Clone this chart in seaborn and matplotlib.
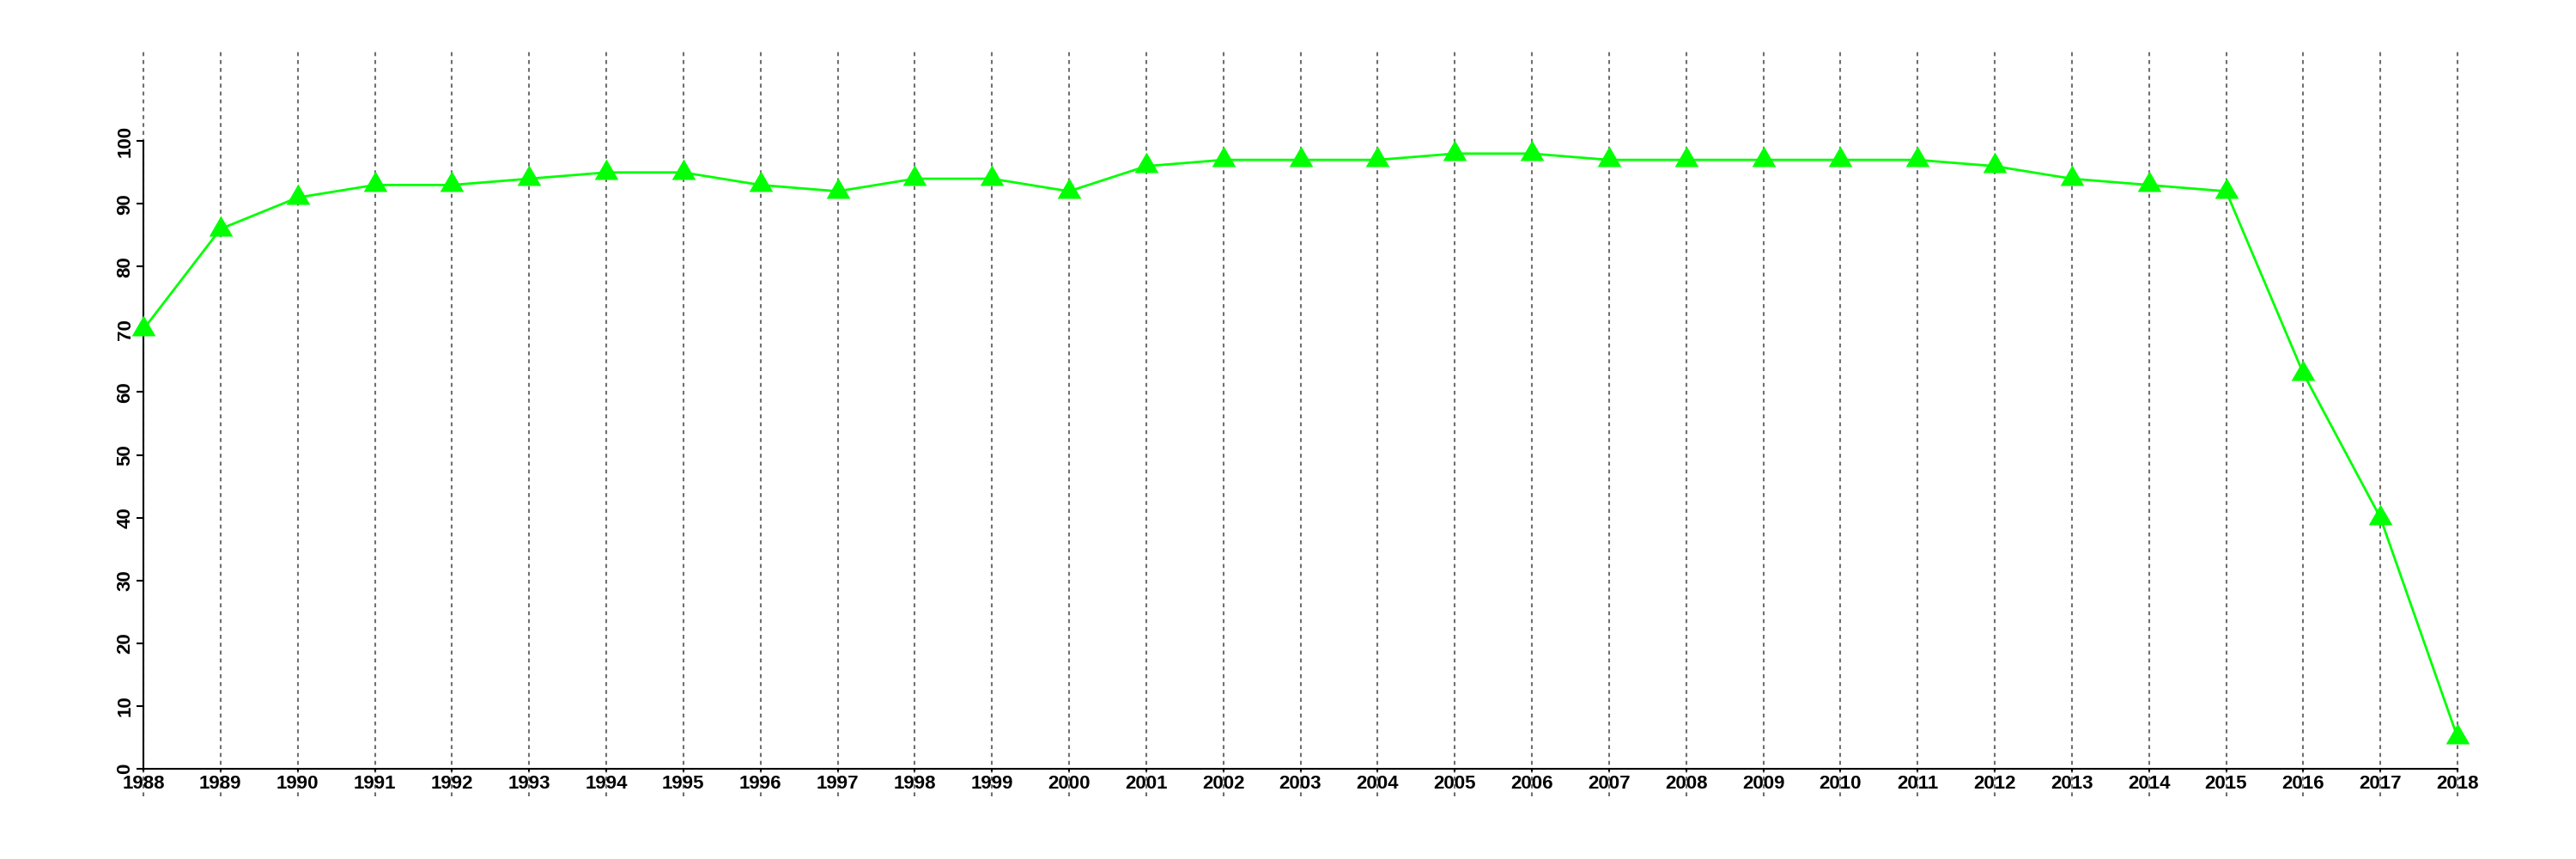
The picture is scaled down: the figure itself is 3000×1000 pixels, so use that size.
import numpy as np
import pandas as pd
import matplotlib
matplotlib.use("Agg")
import matplotlib.pyplot as plt
from matplotlib.path import Path
import seaborn as sns

years = list(range(1988, 2019))
values = [70, 86, 91, 93, 93, 94, 95, 95, 93, 92, 94, 94, 92, 96, 97, 97, 97,
          98, 98, 97, 97, 97, 97, 97, 96, 94, 93, 92, 63, 40, 5]
y_ticks = [0, 10, 20, 30, 40, 50, 60, 70, 80, 90, 100]

df = pd.DataFrame({"year": years, "value": values})

sns.set_theme(style="white")
plt.rcParams["font.family"] = ["Liberation Sans", "DejaVu Sans"]
plt.rcParams["xtick.labelsize"] = 16
plt.rcParams["ytick.labelsize"] = 16

fig = plt.figure(figsize=(30, 10), dpi=100)
ax = fig.add_axes([59.2 / 3000, 0.073, (2969.8 - 59.2) / 3000, 0.868])

# vertical dotted grid lines at each year
for yr in years:
    ax.axvline(yr, color="#707070", linewidth=1.5, linestyle=(0, (2.2, 2.2)), zorder=0)

tri = Path([(0, 1), (-0.866, -0.5), (0.866, -0.5), (0, 1)],
           [Path.MOVETO, Path.LINETO, Path.LINETO, Path.CLOSEPOLY])

sns.lineplot(data=df, x="year", y="value", ax=ax, color="#00ff00",
             linewidth=2.0, marker=tri, markersize=23, markeredgewidth=0,
             markerfacecolor="#00ff00", zorder=3)

ax.set_xlim(1986.8, 2019.2)
ax.set_ylim(-4.4, 114.4)
ax.set_xlabel("")
ax.set_ylabel("")

for s in ["top", "right"]:
    ax.spines[s].set_visible(False)
ax.spines["left"].set_position(("data", 1988))
ax.spines["left"].set_bounds(0, 100)
ax.spines["bottom"].set_position(("data", 0))
ax.spines["bottom"].set_bounds(1988, 2018)
for s in ["left", "bottom"]:
    ax.spines[s].set_color("black")
    ax.spines[s].set_linewidth(1.5)

ax.tick_params(axis="y", direction="out", length=5.8, width=1.5, pad=1.7,
               colors="black", left=True, labelsize=16, labelrotation=90)
ax.tick_params(axis="x", direction="out", length=2, width=1.5, pad=3,
               colors="black", bottom=True, labelsize=16)

ax.set_xticks(years)
ax.set_xticklabels([str(y) for y in years])
ax.set_yticks(y_ticks)
ax.set_yticklabels([str(v) for v in y_ticks])
for lab in ax.get_xticklabels():
    lab.set_fontweight("bold")
    lab.set_fontsize(16)
for lab in ax.get_yticklabels():
    lab.set_fontweight("bold")
    lab.set_fontsize(16)
    lab.set_verticalalignment("center")

ax.grid(False)
ax.set_facecolor("white")
fig.patch.set_facecolor("white")

fig.savefig("out.png", dpi=100, facecolor="white")
